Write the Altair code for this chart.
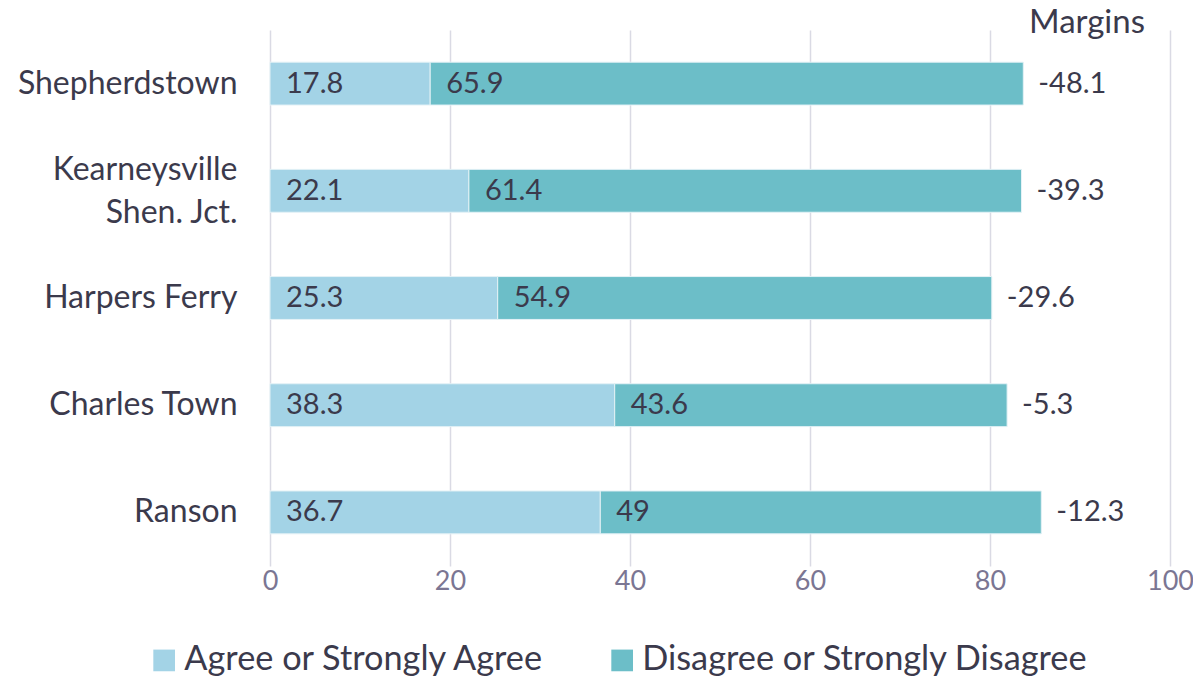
import altair as alt
import pandas as pd

towns = ["Shepherdstown", "Kearneysville|Shen. Jct.", "Harpers Ferry", "Charles Town", "Ranson"]
agree = [17.8, 22.1, 25.3, 38.3, 36.7]
disagree = [65.9, 61.4, 54.9, 43.6, 49]
margins = [-48.1, -39.3, -29.6, -5.3, -12.3]
series = ["Agree or Strongly Agree", "Disagree or Strongly Disagree"]
colors = ["#A3D3E6", "#6CBEC8"]
header = "Margins"

FONT = "Lato"
TXT = "#3B3A4C"

rows = []
for i, t in enumerate(towns):
    rows.append({"town": t, "series": series[0], "value": agree[i], "ord": 0})
    rows.append({"town": t, "series": series[1], "value": disagree[i], "ord": 1})
df = pd.DataFrame(rows)
mdf = pd.DataFrame({"town": towns, "total": [a + d for a, d in zip(agree, disagree)], "margin": margins})

yenc = alt.Y("town:N", sort=towns, title=None,
             scale=alt.Scale(paddingInner=0.6, paddingOuter=0.3),
             axis=alt.Axis(labelExpr="split(datum.label, '|')", labelFont=FONT, labelFontSize=32,
                           labelColor=TXT, labelPadding=33, domain=False, ticks=False,
                           labelLineHeight=43, labelLimit=400,
                           labelOffset={"condition": {"test": "indexof(datum.value, '|') >= 0", "value": -21},
                                        "value": 0}))
xscale = alt.Scale(domain=[0, 100])

base = alt.Chart(df).transform_stack(
    stack="value", groupby=["town"], as_=["v0", "v1"], sort=[alt.SortField("ord")]
).transform_calculate(lbl="'' + datum.value")

bars = base.mark_bar(stroke="#E4F2F6", strokeWidth=1).encode(
    x=alt.X("v0:Q", scale=xscale, title=None,
            axis=alt.Axis(values=[0, 20, 40, 60, 80, 100], labelFont=FONT, labelFontSize=27,
                          labelColor="#7B7693", domain=False, ticks=False, labelPadding=2,
                          labelFlush=False,
                          grid=True, gridColor="#DADAE4", gridWidth=1.5)),
    x2="v1:Q",
    y=yenc,
    color=alt.Color("series:N", scale=alt.Scale(domain=series, range=colors), title=None,
                    legend=alt.Legend(orient="none", legendX=-123, legendY=613, direction="horizontal",
                                      symbolType="square", symbolSize=470, symbolStrokeWidth=0,
                                      labelFont=FONT, labelFontSize=34.3, labelColor=TXT,
                                      columnPadding=60, labelOffset=3, labelLimit=700)),
)

vals = base.mark_text(align="left", baseline="middle", dx=16, font=FONT, fontSize=29, color=TXT).encode(
    x=alt.X("v0:Q", scale=xscale),
    y=alt.Y("town:N", sort=towns),
    text=alt.Text("lbl:N"),
)

mtext = alt.Chart(mdf).transform_calculate(lbl="'' + datum.margin").mark_text(
    align="left", baseline="middle", dx=15, font=FONT, fontSize=29, color=TXT).encode(
    x=alt.X("total:Q", scale=xscale),
    y=alt.Y("town:N", sort=towns),
    text=alt.Text("lbl:N"),
)

htext = alt.Chart(pd.DataFrame({"h": [header]})).mark_text(
    align="right", baseline="alphabetic", dx=-25, dy=3, font=FONT, fontSize=33, color=TXT).encode(
    x=alt.datum(100, scale=xscale),
    y=alt.value(0),
    text="h:N",
)

chart = alt.layer(bars, vals, mtext, htext).properties(
    width=900, height=536,
    autosize=alt.AutoSizeParams(type="none"),
    padding={"left": 262, "top": 22, "right": 23, "bottom": 135},
).configure_view(stroke=None)

chart.save("out.html", embed_options={"renderer": "svg", "actions": False})
